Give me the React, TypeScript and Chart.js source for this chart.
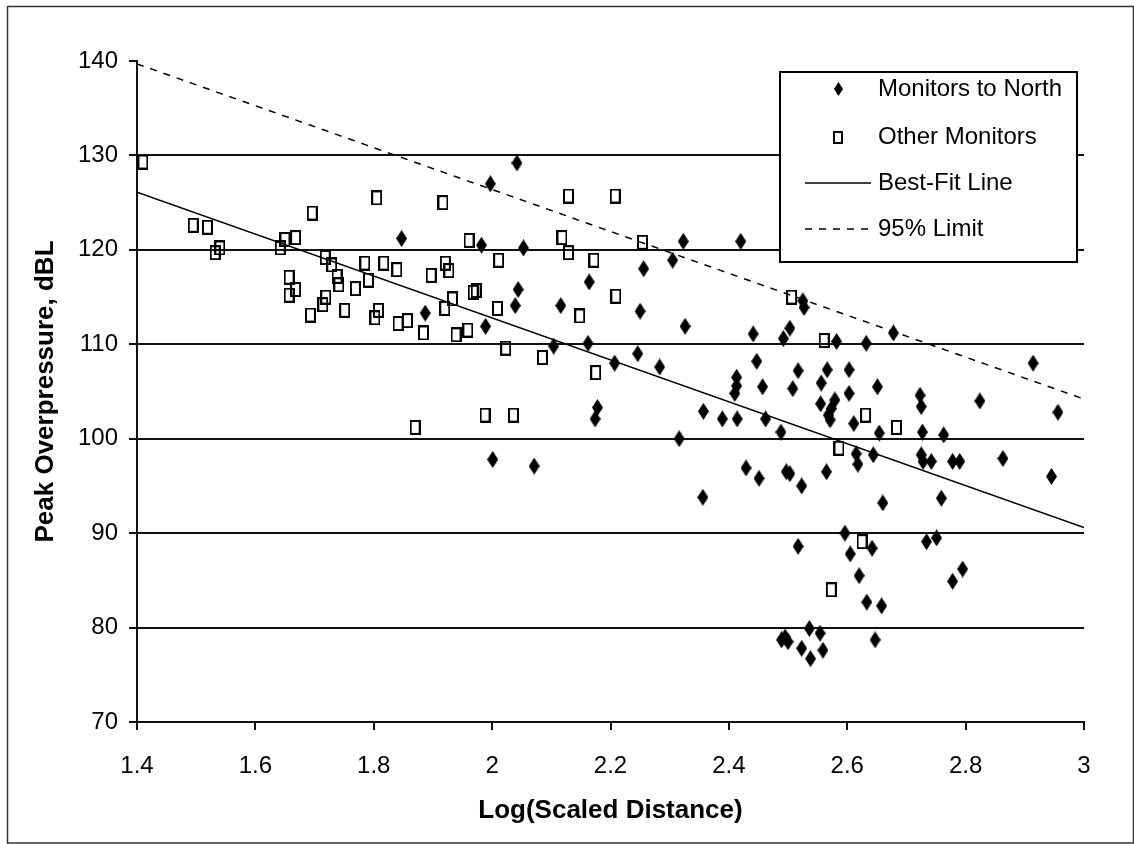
import React, { useEffect, useRef } from "react";
import { Chart, registerables } from "chart.js";

Chart.register(...registerables);

const xTickValues = [1.4, 1.6, 1.8, 2.0, 2.2, 2.4, 2.6, 2.8, 3.0];
const yTickValues = [70, 80, 90, 100, 110, 120, 130, 140];

const seriesLabels = ["Monitors to North", "Other Monitors", "Best-Fit Line", "95% Limit"];
const xTitle = "Log(Scaled Distance)";
const yTitle = "Peak Overpressure, dBL";

const northX = [
  1.847, 1.887, 1.989, 1.997, 2.042, 1.982, 2.053, 2.044, 2.039, 2.116, 2.164, 2.256, 2.305, 2.323, 2.42,
  2.25, 2.326, 2.104, 2.162, 2.207, 2.246, 2.283, 2.178, 2.174, 2.316, 2.001, 2.071, 2.357, 2.389, 2.414,
  2.462, 2.488, 2.441, 2.503, 2.492, 2.525, 2.527, 2.582, 2.632, 2.678, 2.447, 2.413, 2.413, 2.41, 2.517,
  2.566, 2.603, 2.457, 2.508, 2.556, 2.603, 2.651, 2.555, 2.579, 2.573, 2.568, 2.571, 2.611, 2.654, 2.615,
  2.618, 2.644, 2.429, 2.451, 2.497, 2.503, 2.565, 2.725, 2.728, 2.742, 2.778, 2.79, 2.523, 2.66, 2.759,
  2.596, 2.517, 2.605, 2.642, 2.734, 2.751, 2.778, 2.62, 2.633, 2.658, 2.495, 2.5, 2.489, 2.536, 2.554,
  2.523, 2.559, 2.538, 2.647, 2.914, 2.723, 2.725, 2.824, 2.956, 2.727, 2.763, 2.863, 2.945, 2.795, 2.356,
];
const northY = [
  121.2, 113.3, 111.9, 127.0, 129.2, 120.5, 120.2, 115.8, 114.1, 114.1, 116.6, 118.0, 118.9, 120.9, 120.9,
  113.5, 111.9, 109.8, 110.1, 108.0, 109.0, 107.6, 103.3, 102.1, 100.0, 97.8, 97.1, 102.9, 102.1, 102.1,
  102.1, 100.7, 111.1, 111.7, 110.6, 114.6, 113.9, 110.3, 110.1, 111.2, 108.2, 106.5, 105.6, 104.8, 107.2,
  107.3, 107.3, 105.5, 105.3, 105.9, 104.8, 105.5, 103.7, 104.1, 103.2, 102.5, 102.0, 101.6, 100.6, 98.4,
  97.3, 98.3, 96.9, 95.8, 96.5, 96.3, 96.5, 98.3, 97.6, 97.6, 97.6, 97.6, 95.0, 93.2, 93.7,
  90.0, 88.6, 87.8, 88.4, 89.1, 89.5, 84.9, 85.5, 82.7, 82.3, 79.0, 78.5, 78.7, 79.9, 79.4,
  77.8, 77.6, 76.7, 78.7, 108.0, 104.6, 103.4, 104.0, 102.8, 100.7, 100.4, 97.9, 96.0, 86.2, 93.8,
];

const otherX = [
  1.41, 1.495, 1.519, 1.532, 1.54, 1.642, 1.65, 1.668, 1.696, 1.805, 1.657, 1.668, 1.657, 1.718, 1.729,
  1.738, 1.741, 1.769, 1.785, 1.817, 1.839, 1.791, 1.719, 1.714, 1.693, 1.751, 1.808, 1.802, 1.841, 1.857,
  1.897, 1.917, 2.129, 2.208, 1.961, 2.118, 2.129, 2.011, 2.172, 2.254, 1.921, 1.927, 1.933, 1.92, 1.968,
  1.973, 2.009, 2.209, 2.148, 1.884, 1.939, 1.959, 2.023, 2.085, 2.175, 1.988, 2.036, 1.87, 2.506, 2.561,
  2.631, 2.683, 2.586, 2.625, 2.573,
];
const otherY = [
  129.3, 122.6, 122.4, 119.7, 120.2, 120.2, 121.1, 121.3, 123.9, 125.5, 117.1, 115.8, 115.2, 119.2, 118.4,
  117.2, 116.3, 115.9, 118.6, 118.6, 117.9, 116.8, 115.0, 114.2, 113.1, 113.6, 113.6, 112.8, 112.2, 112.5,
  117.3, 125.0, 125.7, 125.7, 121.0, 121.3, 119.7, 118.9, 118.9, 120.8, 118.6, 117.8, 114.8, 113.8, 115.5,
  115.7, 113.8, 115.1, 113.0, 111.2, 111.0, 111.5, 109.6, 108.6, 107.0, 102.5, 102.5, 101.2, 115.0, 110.4,
  102.5, 101.2, 99.0, 89.1, 84.0,
];

const fitX = [1.4, 3.0];
const fitY = [126.1, 90.6];
const limitX = [1.4, 3.0];
const limitY = [139.7, 104.2];

const FONT = '"Liberation Sans", Arial, Helvetica, sans-serif';

function makeDiamond(w: number, h: number) {
  const c = document.createElement("canvas");
  c.width = w;
  c.height = h;
  const g = c.getContext("2d")!;
  g.fillStyle = "#000";
  g.beginPath();
  g.moveTo(w / 2, 0);
  g.lineTo(w, h / 2);
  g.lineTo(w / 2, h);
  g.lineTo(0, h / 2);
  g.closePath();
  g.fill();
  return c;
}

function makeSquare(w: number, h: number) {
  const c = document.createElement("canvas");
  c.width = w;
  c.height = h;
  const g = c.getContext("2d")!;
  g.strokeStyle = "#000";
  g.lineWidth = 2;
  g.strokeRect(1, 1, w - 2, h - 2);
  return c;
}

const framePlugin = {
  id: "frame",
  beforeDraw(chart: any) {
    const ctx = chart.ctx;
    ctx.save();
    ctx.fillStyle = "#fff";
    ctx.fillRect(0, 0, chart.width, chart.height);
    ctx.strokeStyle = "#333";
    ctx.lineWidth = 1.5;
    ctx.strokeRect(7.5, 6.5, chart.width - 8, chart.height - 7.5);
    ctx.restore();
  },
};

const legendPlugin = {
  id: "boxLegend",
  afterDraw(chart: any) {
    const ctx = chart.ctx;
    const L = 780, T = 72, R = 1077, B = 262;
    const rows = [89, 137, 183, 229];
    const icons = [makeDiamond(9, 14), makeSquare(10, 13)];
    ctx.save();
    ctx.fillStyle = "#fff";
    ctx.fillRect(L, T, R - L, B - T);
    ctx.strokeStyle = "#000";
    ctx.lineWidth = 2;
    ctx.strokeRect(L, T, R - L, B - T);
    chart.data.datasets.forEach((ds: any, i: number) => {
      const y = rows[i];
      if (ds.showLine) {
        ctx.beginPath();
        ctx.setLineDash(ds.borderDash || []);
        ctx.lineWidth = 1.5;
        ctx.strokeStyle = "#000";
        ctx.moveTo(805, y);
        ctx.lineTo(871, y);
        ctx.stroke();
        ctx.setLineDash([]);
      } else {
        const img = icons[i];
        ctx.drawImage(img, Math.round(838 - img.width / 2), Math.round(y - img.height / 2));
      }
      ctx.fillStyle = "#000";
      ctx.font = `24px ${FONT}`;
      ctx.textBaseline = "middle";
      ctx.textAlign = "left";
      ctx.fillText(ds.label, 878, y);
    });
    ctx.restore();
  },
};

export default function App() {
  const ref = useRef<HTMLCanvasElement | null>(null);

  useEffect(() => {
    if (!ref.current) return;
    const diamond = makeDiamond(11, 17);
    const square = makeSquare(11, 15);

    const chart = new Chart(ref.current, {
      type: "scatter",
      data: {
        datasets: [
          {
            label: seriesLabels[0],
            data: northX.map((x, i) => ({ x, y: northY[i] })),
            pointStyle: diamond as any,
            pointRadius: 6,
            showLine: false,
          },
          {
            label: seriesLabels[1],
            data: otherX.map((x, i) => ({ x, y: otherY[i] })),
            pointStyle: square as any,
            pointRadius: 6,
            showLine: false,
          },
          {
            label: seriesLabels[2],
            data: fitX.map((x, i) => ({ x, y: fitY[i] })),
            showLine: true,
            borderColor: "#000",
            borderWidth: 1.5,
            pointRadius: 0,
            fill: false,
          },
          {
            label: seriesLabels[3],
            data: limitX.map((x, i) => ({ x, y: limitY[i] })),
            showLine: true,
            borderColor: "#000",
            borderWidth: 1.5,
            borderDash: [7, 7],
            pointRadius: 0,
            fill: false,
          },
        ] as any,
      },
      options: {
        animation: false,
        responsive: false,
        devicePixelRatio: 1,
        layout: { padding: { top: 61, right: 50, left: 0, bottom: 0 } },
        plugins: {
          legend: { display: false },
          tooltip: { enabled: false },
        },
        scales: {
          x: {
            type: "linear",
            min: 1.4,
            max: 3,
            afterFit: (s: any) => {
              s.height = 122;
            },
            afterBuildTicks: (s: any) => {
              s.ticks = xTickValues.map((v) => ({ value: v }));
            },
            grid: {
              drawOnChartArea: false,
              drawTicks: true,
              tickLength: 8,
              color: "#111",
              tickColor: "#111",
              lineWidth: 2,
            },
            border: { color: "#111", width: 2 },
            ticks: {
              color: "#000",
              font: { family: FONT, size: 24 },
              padding: 22,
              maxRotation: 0,
              autoSkip: false,
              callback: (v: any) => String(Math.round(Number(v) * 10) / 10),
            },
            title: {
              display: true,
              text: xTitle,
              color: "#000",
              font: { family: FONT, size: 26, weight: "bold" },
              padding: { top: 0, bottom: 18 },
            },
          },
          y: {
            type: "linear",
            min: 70,
            max: 140,
            afterFit: (s: any) => {
              s.width = 137;
            },
            afterBuildTicks: (s: any) => {
              s.ticks = yTickValues.map((v) => ({ value: v }));
            },
            grid: {
              color: (c: any) => (c.tick && c.tick.value === 140 ? "rgba(0,0,0,0)" : "#111"),
              tickColor: "#111",
              lineWidth: 2,
              tickLength: 8,
            },
            border: { color: "#111", width: 2 },
            ticks: {
              color: "#000",
              font: { family: FONT, size: 24 },
              padding: 11,
              callback: (v: any) => String(v),
            },
            title: {
              display: true,
              text: yTitle,
              color: "#000",
              font: { family: FONT, size: 26, weight: "bold" },
              padding: { top: 30, bottom: 0 },
            },
          },
        },
      } as any,
      plugins: [framePlugin, legendPlugin],
    });

    return () => chart.destroy();
  }, []);

  return (
    <canvas
      ref={ref}
      width={1134}
      height={844}
      style={{ position: "absolute", left: 0, top: 0, display: "block", width: 1134, height: 844 }}
    />
  );
}
